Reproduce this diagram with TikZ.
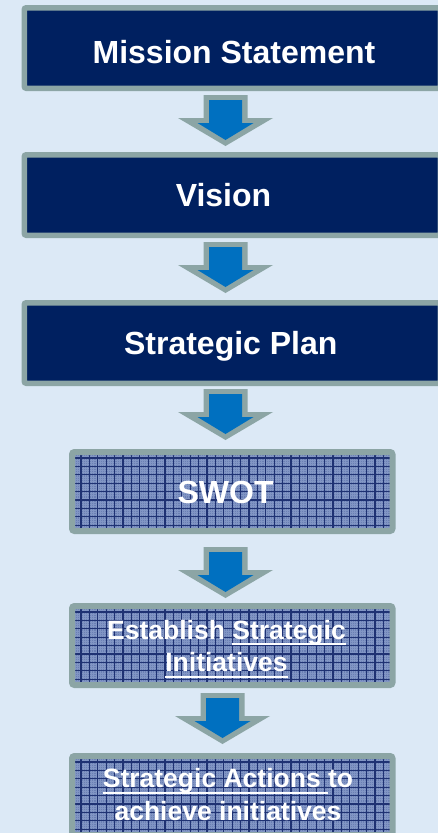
\documentclass[tikz,border=0pt]{standalone}
\usepackage{fontspec}
\setmainfont{Liberation Sans}
\definecolor{bgblue}{HTML}{DCE9F6}
\definecolor{navy}{HTML}{002060}
\definecolor{rimgray}{HTML}{8CA5A5}
\definecolor{arrowblue}{HTML}{0070C0}
\definecolor{gridfill}{HTML}{6A7FB4}
\definecolor{gridline}{HTML}{1F3273}
\definecolor{griddot}{HTML}{A4B6DC}

% underline at a fixed depth below the baseline
\newcommand\undl[1]{\setbox0\hbox{#1}\rlap{\rule[-6pt]{\wd0}{2pt}}\box0}

% block arrow pointing down: #1 = centre x, #2 = top y
\newcommand\flowarrow[2]{%
  \fill[rimgray] (#1-22,#2) -- (#1+22,#2) -- (#1+22,#2+23) -- (#1+47.5,#2+23)
    -- (#1,#2+51) -- (#1-47.5,#2+23) -- (#1-22,#2+23) -- cycle;
  \fill[arrowblue] (#1-16.5,#2+5) -- (#1+16.5,#2+5) -- (#1+16.5,#2+28) -- (#1+28,#2+28)
    -- (#1,#2+45) -- (#1-28,#2+28) -- (#1-16.5,#2+28) -- cycle;}

\tikzset{
  topbox/.style={draw=rimgray, line width=5.5pt, fill=navy, rounded corners=2pt,
    minimum width=416pt, minimum height=80.5pt, inner sep=0pt, outer sep=0pt},
  gridbox/.style={draw=rimgray, line width=6pt, rounded corners=2.5pt,
    minimum width=320.5pt, minimum height=79pt, inner sep=0pt, outer sep=0pt,
    path picture={
      \fill[gridfill] (path picture bounding box.south west) rectangle (path picture bounding box.north east);
      \draw[griddot, line width=0.5pt, opacity=0.4, step=2.1pt]
        (path picture bounding box.south west) grid (path picture bounding box.north east);
      \draw[gridline, line width=1.2pt, step=8.4pt]
        (path picture bounding box.south west) grid (path picture bounding box.north east);
    }},
  bigtext/.style={text=white, inner sep=0pt, font=\bfseries\fontsize{32}{38}\selectfont},
  smalltext/.style={text=white, inner sep=0pt, align=center,
    font=\bfseries\fontsize{26.5}{32.5}\selectfont},
}

\begin{document}
\begin{tikzpicture}[x=1pt, y=-1pt]
  \useasboundingbox (0,0) rectangle (438,833);
  \fill[bgblue] (0,0) rectangle (438,833);
  \clip (0,0) rectangle (438,833);

  % solid navy stages
  \node[topbox] (mission) at (232.25,48) {};
  \node[topbox] (vision)  at (232.25,195) {};
  \node[topbox] (plan)    at (232.25,343) {};

  % patterned stages
  \node[gridbox] (swot)    at (232.25,491.5) {};
  \node[gridbox] (establish) at (232.25,645.5) {};
  \node[gridbox] (actions) at (232.25,795.5) {};

  % labels
  \node[bigtext, anchor=base] (tmission) at (234,63) {Mission Statement};
  \node[bigtext, anchor=base] (tvision)  at (223.5,206) {Vision};
  \node[bigtext, anchor=base] (tplan)    at (230.8,354) {Strategic Plan};
  \node[bigtext, anchor=base] (tswot)    at (225.6,503) {SWOT};
  \node[smalltext] (testablish) at (226.5,649)
    {Establish \undl{Strategic}\\\undl{Initiatives}};
  \node[smalltext] (tactions) at (228,794.5)
    {\undl{Strategic Actions }to\\achieve initiatives};

  % arrows between stages
  \flowarrow{225.5}{95}
  \flowarrow{225.5}{242}
  \flowarrow{225.5}{389}
  \flowarrow{225.5}{547}
  \flowarrow{222.5}{693}
\end{tikzpicture}
\end{document}
